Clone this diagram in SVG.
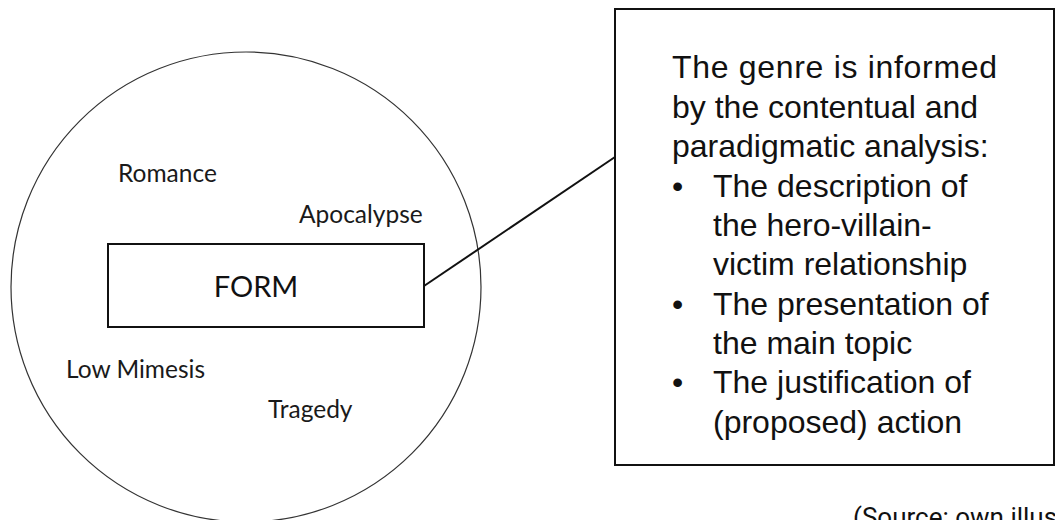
<svg xmlns="http://www.w3.org/2000/svg" width="1055" height="520" viewBox="0 0 1055 520">
  <style>
    .genre { font-family: Lato, "Open Sans", sans-serif; font-size: 24.5px; fill: #1a1a1a; }
    .form { font-family: Lato, "Open Sans", sans-serif; font-size: 29px; fill: #111; text-anchor: middle; }
    .note { font-family: "Liberation Sans", Arial, sans-serif; font-size: 32px; fill: #111; }
    .src { font-family: Roboto, "Liberation Sans", sans-serif; font-size: 26px; fill: #111; }
    .box { fill: #fff; stroke: #111; stroke-width: 2; }
  </style>
  <rect width="1055" height="520" fill="#fff"/>

  <g id="genre-circle">
    <circle cx="246" cy="287" r="235" fill="none" stroke="#333" stroke-width="1.2"/>
    <text class="genre" x="118" y="182">Romance</text>
    <text class="genre" x="299" y="223">Apocalypse</text>
    <text class="genre" x="66" y="378">Low Mimesis</text>
    <text class="genre" x="268" y="418">Tragedy</text>
  </g>

  <g id="connectors">
    <line x1="424" y1="286" x2="615" y2="157" stroke="#111" stroke-width="2"/>
  </g>

  <g id="form">
    <rect class="box" x="108" y="244" width="316" height="83"/>
    <text class="form" x="256" y="297">FORM</text>
  </g>

  <g id="analysis">
    <rect class="box" x="615" y="9" width="439" height="456"/>
    <text class="note" x="672" y="78" textLength="325">The genre is informed</text>
    <text class="note" x="672" y="118">by the contentual and</text>
    <text class="note" x="672" y="157">paradigmatic analysis:</text>
    <text class="note" x="672" y="197">•</text>
    <text class="note" x="713" y="197">The description of</text>
    <text class="note" x="713" y="236">the hero-villain-</text>
    <text class="note" x="713" y="275">victim relationship</text>
    <text class="note" x="672" y="315">•</text>
    <text class="note" x="713" y="315">The presentation of</text>
    <text class="note" x="713" y="354">the main topic</text>
    <text class="note" x="672" y="393">•</text>
    <text class="note" x="713" y="393">The justification of</text>
    <text class="note" x="713" y="433">(proposed) action</text>
  </g>

  <!-- source line runs past the lower-right corner of the canvas -->
  <text class="src" x="853" y="526">(Source: own illustration)</text>
</svg>
